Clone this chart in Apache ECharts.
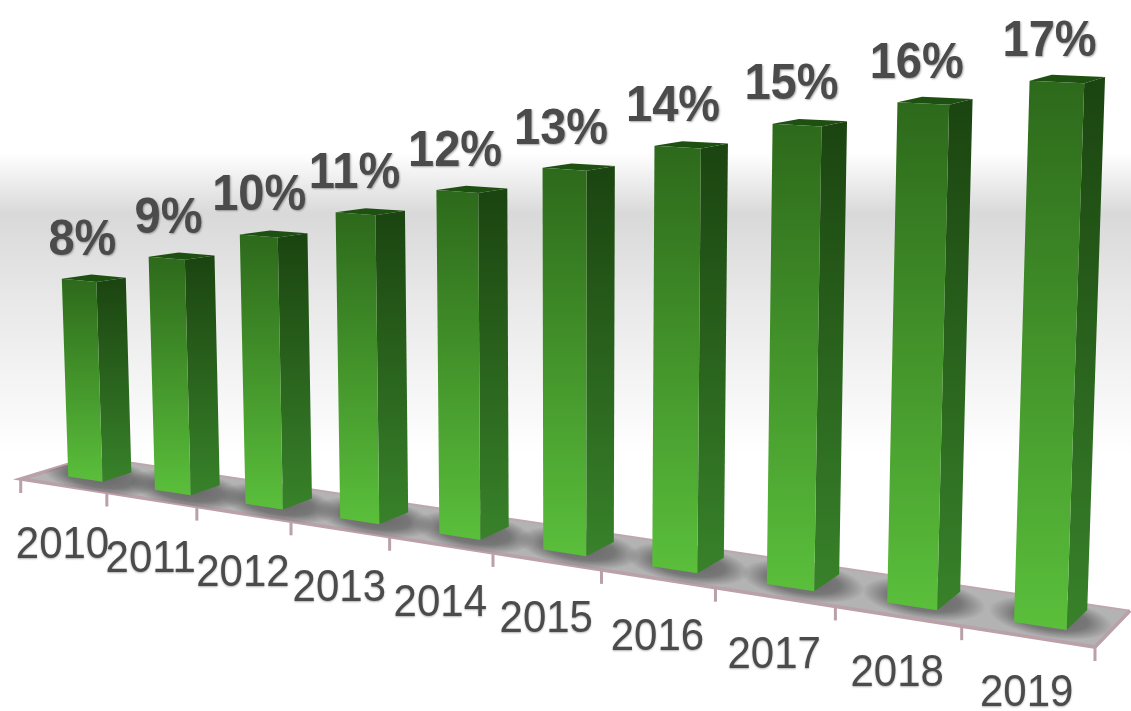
<!DOCTYPE html>
<html>
<head>
<meta charset="utf-8">
<style>html,body{margin:0;padding:0;background:#fff}#chart{width:1131px;height:711px}</style>
<script src="https://cdn.jsdelivr.net/npm/echarts@6/dist/echarts.min.js"></script>
</head>
<body>
<div id="chart"></div>
<script>
const categories = ['2010','2011','2012','2013','2014','2015','2016','2017','2018','2019'];
const percentValues = [8,9,10,11,12,13,14,15,16,17];
const axisMin = 2;
const axisMax = 18;

// Perspective of the floor plane: X runs in category units, Y from front (0) to back (1).
function floorPoint(X, Y) {
  const w = 1 - 0.02178 * X + 0.0432 * Y;
  return [(63.3 + 84.75 * X + 76.6 * Y) / w, (485.7 + 2.89 * X - 2.5 * Y) / w];
}
// Raises a floor point by h pixels; verticals converge towards a point far below the floor.
function lift(p, h) {
  return [p[0] + (p[0] - 572) * 6.5e-5 * h, p[1] - h];
}

const BAR_LEFT = -0.19, BAR_RIGHT = 0.21, BAR_FRONT = 0.29;
const barBack = (i) => 0.70 + 0.017 * i;
const textColor = '#4b4b4b';
const rimColor = '#b9a0a9';

function floorOutline() {
  return [floorPoint(-0.5, 0), floorPoint(9.5, 0), floorPoint(9.5, 1), floorPoint(-0.5, 1)];
}

function renderFloor() {
  const [fl, fr, br, bl] = floorOutline();
  const children = [{
    type: 'polygon',
    shape: { points: [fl, fr, br, bl] },
    style: { fill: '#b3b3b3' }
  }, {
    type: 'polyline',
    shape: { points: [bl, br] },
    style: { stroke: '#bda6ae', lineWidth: 2, fill: 'none' }
  }, {
    type: 'polyline',
    shape: { points: [bl, fl, fr, br] },
    style: { stroke: rimColor, lineWidth: 3.5, fill: 'none' }
  }];
  for (let t = 0; t <= categories.length; t++) {
    const p = floorPoint(t - 0.5, 0);
    children.push({
      type: 'line',
      shape: { x1: p[0], y1: p[1], x2: p[0], y2: p[1] + 14 },
      style: { stroke: rimColor, lineWidth: 3 }
    });
  }
  return { type: 'group', children };
}

// Soft contact shadow around a bar's foot, kept inside the floor.
function renderShadow(params, api) {
  const i = api.value(0);
  const x0 = i + BAR_LEFT, x1 = i + BAR_RIGHT, yb = barBack(i);
  const left = floorPoint(x0, BAR_FRONT), right = floorPoint(x1, yb);
  const [fl, fr, br, bl] = floorOutline();
  const radius = (right[0] - left[0]) / 2 + 26;
  return {
    type: 'group',
    clipPath: { type: 'polygon', shape: { points: [fl, fr, br, bl] } },
    children: [{
      type: 'circle',
      x: (left[0] + right[0]) / 2,
      y: (left[1] + right[1]) / 2 + 2,
      scaleY: 0.32,
      rotation: -0.15,
      shape: { cx: 0, cy: 0, r: radius },
      style: {
        fill: new echarts.graphic.RadialGradient(0.5, 0.5, 0.5, [
          { offset: 0, color: 'rgba(70,70,70,0.7)' },
          { offset: 0.6, color: 'rgba(70,70,70,0.55)' },
          { offset: 1, color: 'rgba(70,70,70,0)' }
        ])
      }
    }]
  };
}

function renderBar(params, api) {
  const i = api.value(0);
  const v = api.value(1);
  const height = (api.coord([i, axisMin])[1] - api.coord([i, v])[1]) * (33.3 + 0.35 * i) / 33.5;
  const x0 = i + BAR_LEFT, x1 = i + BAR_RIGHT, yb = barBack(i);

  // Corners further from the viewer rise a little less, which flattens the top face.
  const left = floorPoint(x0, BAR_FRONT), corner = floorPoint(x1, BAR_FRONT);
  const right = floorPoint(x1, yb), back = floorPoint(x0, yb);
  const topLeft = lift(left, height * 0.99), topCorner = lift(corner, height);
  const topRight = lift(right, height * 0.975), topBack = lift(back, height * 0.965);

  const grad = (a, b) => new echarts.graphic.LinearGradient(0, 0, 0, 1, [
    { offset: 0, color: a }, { offset: 1, color: b }
  ]);

  return {
    type: 'group',
    children: [{
      type: 'polygon',
      shape: { points: [topLeft, topCorner, topRight, topBack] },
      style: { fill: '#1e5012' }
    }, {
      type: 'polygon',
      shape: { points: [topCorner, topRight, right, corner] },
      style: { fill: grad('#1b4410', '#38822a') }
    }, {
      type: 'polygon',
      shape: { points: [topLeft, topCorner, corner, left] },
      style: { fill: grad('#2d691b', '#5abf3b') }
    }, {
      type: 'text',
      x: topCorner[0] - 14 - 2.3 * i,
      y: topCorner[1] - 41,
      scaleY: 1.08,
      style: {
        text: v + '%',
        fill: textColor,
        font: 'bold 47px "Liberation Sans", Arial, sans-serif',
        align: 'center',
        verticalAlign: 'middle',
        textShadowColor: 'rgba(60,60,60,0.45)',
        textShadowBlur: 2,
        textShadowOffsetX: 1,
        textShadowOffsetY: 1
      }
    }, {
      type: 'text',
      x: corner[0] - 40,
      y: corner[1] + 64,
      scaleY: 1.06,
      style: {
        text: categories[i],
        fill: textColor,
        font: '42px "Liberation Sans", Arial, sans-serif',
        align: 'center',
        verticalAlign: 'middle',
        textShadowColor: 'rgba(60,60,60,0.4)',
        textShadowBlur: 2,
        textShadowOffsetX: 0,
        textShadowOffsetY: 1
      }
    }]
  };
}

const chart = echarts.init(document.getElementById('chart'), null, { renderer: 'canvas' });
const barData = percentValues.map((v, i) => [categories[i], v]);
chart.setOption({
  animation: false,
  backgroundColor: new echarts.graphic.LinearGradient(0, 0, 0, 1, [
    { offset: 0, color: '#ffffff' },
    { offset: 0.215, color: '#ffffff' },
    { offset: 0.30, color: '#d9d9d9' },
    { offset: 0.42, color: '#e8e8e8' },
    { offset: 0.64, color: '#ffffff' },
    { offset: 1, color: '#ffffff' }
  ]),
  grid: { left: 0, right: 0, top: 40, height: 536 },
  xAxis: { type: 'category', data: categories, show: false },
  yAxis: { type: 'value', min: axisMin, max: axisMax, show: false },
  series: [{
    type: 'custom',
    name: 'floor',
    data: [[categories[0], axisMin]],
    renderItem: renderFloor,
    silent: true,
    z: 1
  }, {
    type: 'custom',
    name: 'shadow',
    data: barData,
    encode: { x: 0, y: 1 },
    renderItem: renderShadow,
    silent: true,
    z: 2
  }, {
    type: 'custom',
    name: 'share',
    data: barData,
    encode: { x: 0, y: 1 },
    renderItem: renderBar,
    z: 3
  }]
});
</script>
</body>
</html>
